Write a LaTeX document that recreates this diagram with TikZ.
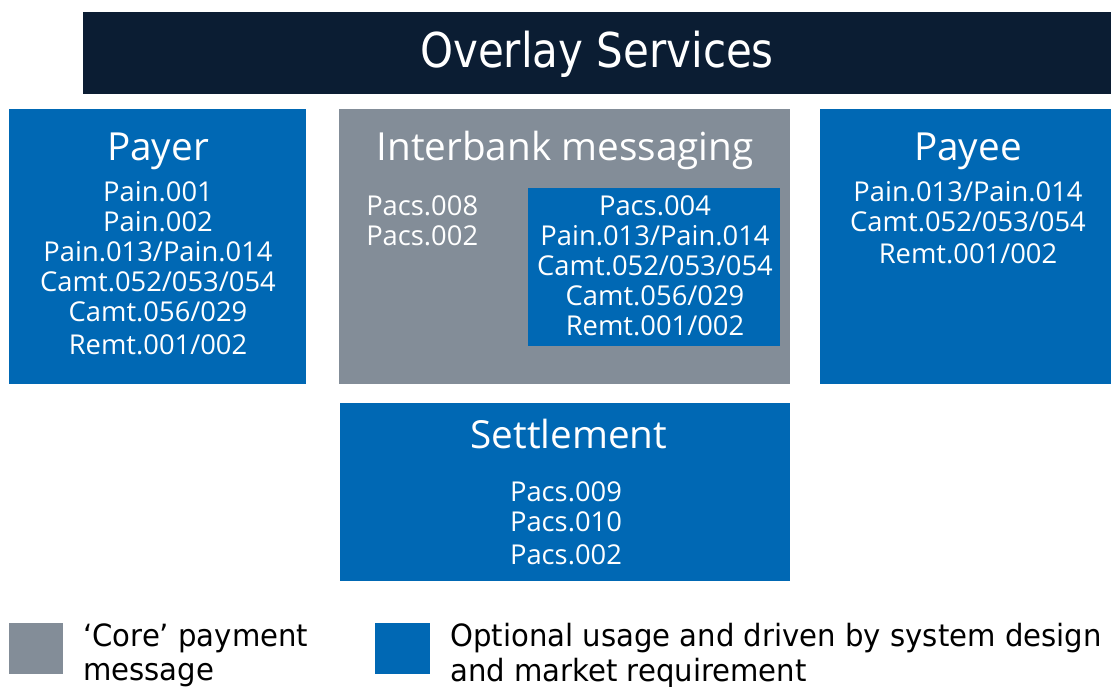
\documentclass[tikz,border=0pt]{standalone}
\usepackage{fontspec}
\setmainfont{Open Sans}
\newfontfamily\titlefont[FakeStretch=0.875]{DejaVu Sans}
\newfontfamily\legendfont[FakeStretch=0.95]{DejaVu Sans}
\definecolor{navy}{HTML}{0B1D33}
\definecolor{optblue}{HTML}{0068B4}
\definecolor{coregray}{HTML}{838D98}
\begin{document}
\begin{tikzpicture}[x=0.75pt, y=-0.75pt]
    \tikzstyle{box}=[anchor=north west, inner sep=0pt, outer sep=0pt]
    \tikzstyle{hdr}=[text=white, anchor=base, inner sep=0pt, font=\fontsize{29}{34}\selectfont]
    \tikzstyle{lst}=[text=white, anchor=north, align=center, inner sep=0pt, font=\fontsize{20.5}{22.5}\selectfont]
    \tikzstyle{leg}=[anchor=north west, inner sep=0pt, align=left, font=\legendfont\fontsize{23}{26}\selectfont]

    \useasboundingbox (0,0) rectangle (1111,686);

    % boxes
    \node[box, fill=navy, minimum width=771pt, minimum height=61.5pt] (overlay) at (83,12) {};
    \node[box, fill=optblue, minimum width=222.75pt, minimum height=206.25pt] (payer) at (9,109) {};
    \node[box, fill=coregray, minimum width=338.25pt, minimum height=206.25pt] (interbank) at (339,109) {};
    \node[box, fill=optblue, minimum width=189pt, minimum height=118.5pt] (inner) at (528,188) {};
    \node[box, fill=optblue, minimum width=218.25pt, minimum height=206.25pt] (payee) at (820,109) {};
    \node[box, fill=optblue, minimum width=337.5pt, minimum height=133.5pt] (settle) at (340,403) {};

    % headings
    \node[text=white, anchor=base, inner sep=0pt, font=\titlefont\fontsize{36}{40}\selectfont] (overlaytxt) at (597,67) {Overlay Services};
    \node[hdr] (payerhdr) at (158,160) {Payer};
    \node[hdr] (interhdr) at (565,160) {Interbank messaging};
    \node[hdr] (payeehdr) at (968,160) {Payee};
    \node[hdr] (settlehdr) at (569,448) {Settlement};

    % message lists
    \node[lst] (payerlst) at (158,181) {Pain.001\\Pain.002\\Pain.013/Pain.014\\Camt.052/053/054\\Camt.056/029\\[2.5pt]Remt.001/002};
    \node[lst, anchor=north west, align=left] (corelst) at (366,195) {Pacs.008\\Pacs.002};
    \node[lst] (innerlst) at (655,195) {Pacs.004\\Pain.013/Pain.014\\Camt.052/053/054\\Camt.056/029\\Remt.001/002};
    \node[lst] (payeelst) at (968,181) {Pain.013/Pain.014\\Camt.052/053/054\\[1.5pt]Remt.001/002};
    \node[lst] (settlelst) at (566,481) {Pacs.009\\Pacs.010\\[2.5pt]Pacs.002};

    % legend
    \node[box, fill=coregray, minimum width=40.5pt, minimum height=38.25pt] (corekey) at (9,623) {};
    \node[leg] (coretxt) at (83,623) {‘Core’ payment\\message};
    \node[box, fill=optblue, minimum width=41.25pt, minimum height=38.25pt] (optkey) at (375,623) {};
    \node[leg] (opttxt) at (450,623) {Optional usage and driven by system design\\and market requirement};
\end{tikzpicture}
\end{document}
